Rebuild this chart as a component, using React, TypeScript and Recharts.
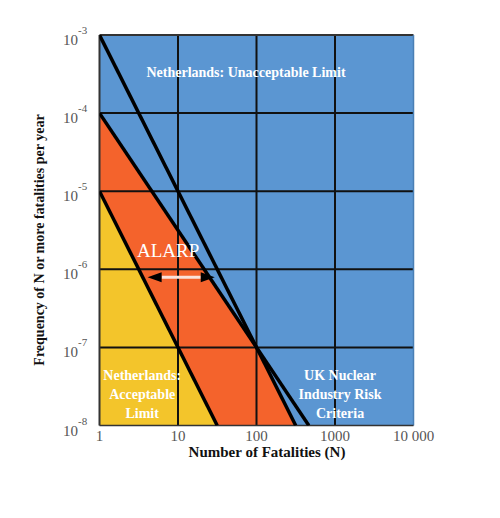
import React from 'react';
import {
  ComposedChart,
  Area,
  Line,
  XAxis,
  YAxis,
  ReferenceLine,
  ReferenceDot,
  ReferenceArea,
} from 'recharts';

// F-N criteria, values (log-log)
const unacceptN = [1, 316];
const unacceptF = [1e-3, 1e-8];

const ukN = [1, 464];
const ukF = [1e-4, 1e-8];

const orangeN = [1, 100, 316];
const orangeF = [1e-4, 1e-7, 1e-8];

const acceptN = [1, 31.6];
const acceptF = [1e-5, 1e-8];

const floorF = 1e-8;

const xTicks = [1, 10, 100, 1000, 10000];
const xTickLabels = ['1', '10', '100', '1000', '10 000'];
const yTicks = [1e-8, 1e-7, 1e-6, 1e-5, 1e-4, 1e-3];
const xGrid = [10, 100, 1000];
const yGrid = [1e-7, 1e-6, 1e-5, 1e-4];

const alarpN = [4.1, 29.4];
const alarpF = 7.9e-7;

const labels = [
  { n: 73.5, f: 3.4e-4, lines: ['Netherlands: Unacceptable Limit'], size: 14, bold: true },
  { n: 7.5, f: 1.67e-6, lines: ['ALARP'], size: 19, bold: false },
  { n: 3.5, f: 4.4e-8, lines: ['Netherlands:', 'Acceptable', 'Limit'], size: 14, bold: true },
  { n: 1160, f: 4.4e-8, lines: ['UK Nuclear', 'Industry Risk', 'Criteria'], size: 14, bold: true },
];

const BLUE = '#5b96d2';
const ORANGE = '#f4632c';
const YELLOW = '#f3c52b';
const SERIF = '"Liberation Serif", "DejaVu Serif", serif';

// merge the series into one table keyed by N
const allN = Array.from(new Set([...unacceptN, ...ukN, ...orangeN, ...acceptN])).sort((a, b) => a - b);
const rows = allN.map((n) => {
  const row: any = { n };
  const iu = unacceptN.indexOf(n);
  if (iu >= 0) row.unaccept = unacceptF[iu];
  const ik = ukN.indexOf(n);
  if (ik >= 0) row.uk = ukF[ik];
  const io = orangeN.indexOf(n);
  if (io >= 0) row.orange = [floorF, orangeF[io]];
  const ia = acceptN.indexOf(n);
  if (ia >= 0) {
    row.accept = [floorF, acceptF[ia]];
    row.acceptLine = acceptF[ia];
  }
  return row;
});

const YTick = ({ y, payload }: any) => {
  const exp = Math.round(Math.log10(payload.value));
  return (
    <text x={55} y={y + 10} fill="#555" fontSize={15} fontFamily={SERIF}>
      10
      <tspan dy={-11} fontSize={11}>
        {exp}
      </tspan>
    </text>
  );
};

const XTick = ({ x, payload }: any) => {
  const i = xTicks.indexOf(payload.value);
  return (
    <text x={x} y={433} fill="#555" fontSize={15} fontFamily={SERIF} textAnchor="middle">
      {xTickLabels[i]}
    </text>
  );
};

const Arrow = (props: any) => {
  const { x1, y1, x2 } = props;
  const head = 14;
  return (
    <g>
      <line x1={x1 + head} y1={y1} x2={x2 - head} y2={y1} stroke="#fbe2da" strokeWidth={3} />
      <polygon points={`${x1},${y1} ${x1 + head},${y1 - 5} ${x1 + head},${y1 + 5}`} fill="#000" />
      <polygon points={`${x2},${y1} ${x2 - head},${y1 - 5} ${x2 - head},${y1 + 5}`} fill="#000" />
    </g>
  );
};

const makeLabel = (l: any) => (p: any) => (
  <text
    x={p.cx}
    y={p.cy + 5}
    fill="#fff"
    fontSize={l.size}
    fontWeight={l.bold ? 'bold' : 'normal'}
    fontFamily={SERIF}
    textAnchor="middle"
  >
    {l.lines.map((t: string, i: number) => (
      <tspan key={i} x={p.cx} dy={i === 0 ? 0 : 19}>
        {t}
      </tspan>
    ))}
  </text>
);

export default function App() {
  return (
    <div style={{ width: 484, height: 500, background: '#fff' }}>
      <ComposedChart
        width={484}
        height={500}
        data={rows}
        margin={{ top: 27, right: 78.5, bottom: 52.5, left: 0 }}
      >
        <XAxis
          type="number"
          dataKey="n"
          scale="log"
          domain={[1, 10000]}
          ticks={xTicks}
          allowDataOverflow
          axisLine={false}
          tickLine={false}
          tick={<XTick />}
          height={30}
          label={{
            content: () => (
              <text x={259} y={449} fontSize={15} fontWeight="bold" fontFamily={SERIF} fill="#111" textAnchor="middle">
                Number of Fatalities (N)
              </text>
            ),
          }}
        />
        <YAxis
          type="number"
          scale="log"
          domain={[1e-8, 1e-3]}
          ticks={yTicks}
          allowDataOverflow
          axisLine={false}
          tickLine={false}
          tick={<YTick />}
          width={91.5}
          label={{
            content: () => (
              <text
                x={36}
                y={232}
                fontSize={14}
                fontWeight="bold"
                fontFamily={SERIF}
                fill="#111"
                textAnchor="middle"
                transform="rotate(-90 36 232)"
              >
                Frequency of N or more fatalities per year
              </text>
            ),
          }}
        />
        <ReferenceArea x1={1} x2={10000} y1={1e-8} y2={1e-3} fill={BLUE} fillOpacity={1} stroke="none" />
        <Area
          dataKey="orange"
          type="linear"
          fill={ORANGE}
          fillOpacity={1}
          stroke="none"
          connectNulls
          isAnimationActive={false}
        />
        <Area
          dataKey="accept"
          type="linear"
          fill={YELLOW}
          fillOpacity={1}
          stroke="none"
          connectNulls
          isAnimationActive={false}
        />
        {xGrid.map((v) => (
          <ReferenceLine key={'x' + v} x={v} stroke="#111" strokeWidth={2} />
        ))}
        {yGrid.map((v) => (
          <ReferenceLine key={'y' + v} y={v} stroke="#111" strokeWidth={2} />
        ))}
        <ReferenceLine x={1} stroke="#333" strokeWidth={2} />
        <ReferenceLine y={1e-3} stroke="#333" strokeWidth={2} />
        <ReferenceLine x={10000} stroke="#4a7fb5" strokeWidth={1.5} />
        <ReferenceLine y={1e-8} stroke="#333" strokeWidth={1.5} />
        <Line dataKey="unaccept" type="linear" stroke="#000" strokeWidth={3.5} dot={false} connectNulls isAnimationActive={false} />
        <Line dataKey="uk" type="linear" stroke="#000" strokeWidth={3.5} dot={false} connectNulls isAnimationActive={false} />
        <Line dataKey="acceptLine" type="linear" stroke="#000" strokeWidth={3.5} dot={false} connectNulls isAnimationActive={false} />
        <ReferenceLine
          segment={[
            { x: alarpN[0], y: alarpF },
            { x: alarpN[1], y: alarpF },
          ]}
          shape={(p: any) => <Arrow {...p} />}
        />
        {labels.map((l, i) => (
          <ReferenceDot key={i} x={l.n} y={l.f} r={0} shape={makeLabel(l)} />
        ))}
      </ComposedChart>
    </div>
  );
}
